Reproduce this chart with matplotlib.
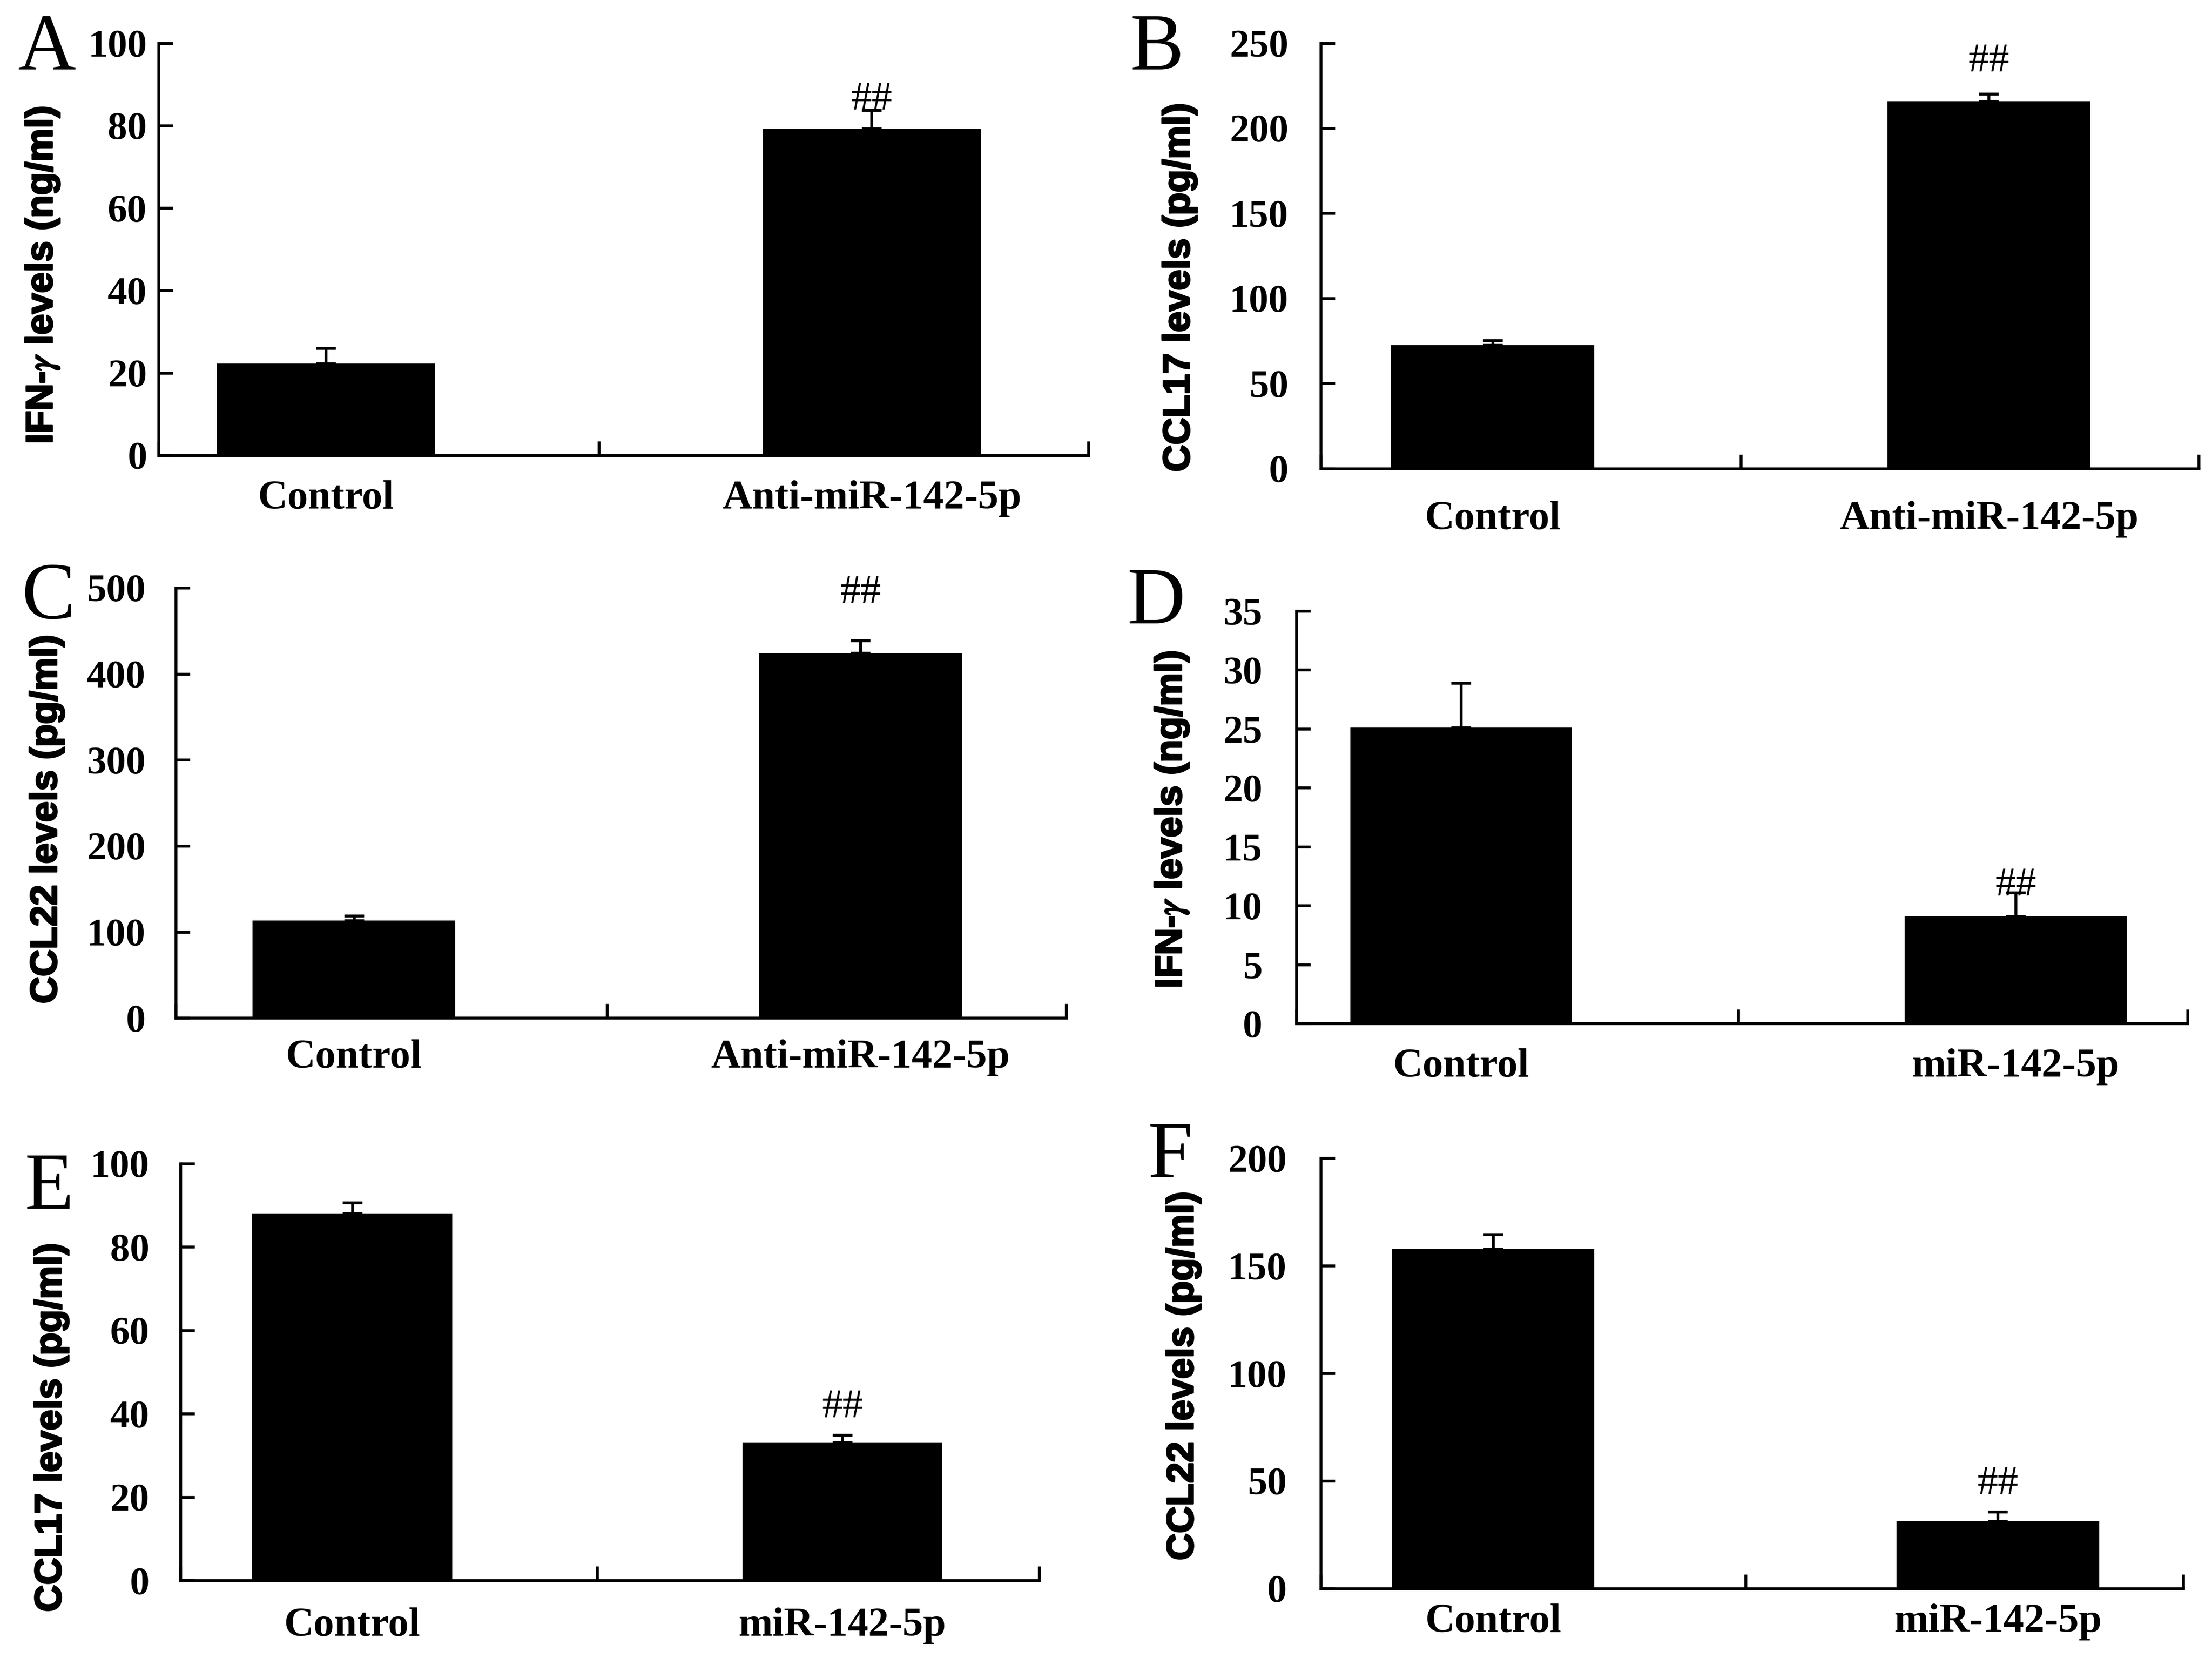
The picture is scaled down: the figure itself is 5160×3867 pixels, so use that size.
import matplotlib
matplotlib.use("Agg")
import matplotlib.pyplot as plt
import matplotlib.patheffects as pe
import numpy as np

plt.rcParams["mathtext.fontset"] = "stix"

# data (mean, upper SD)
groups_anti = ["Control", "Anti-miR-142-5p"]
groups_mimic = ["Control", "miR-142-5p"]

ifng_anti_mean = [22.3, 79.2]
ifng_anti_err = [3.7, 4.5]
ccl17_anti_mean = [72.4, 215.8]
ccl17_anti_err = [2.9, 4.4]
ccl22_anti_mean = [113.3, 424.0]
ccl22_anti_err = [5.7, 14.6]
ifng_mimic_mean = [25.1, 9.1]
ifng_mimic_err = [3.8, 2.0]
ccl17_mimic_mean = [88.1, 33.1]
ccl17_mimic_err = [2.5, 1.8]
ccl22_mimic_mean = [157.9, 31.3]
ccl22_mimic_err = [6.8, 4.3]

ylabel_ifng = r"IFN-$\gamma$ levels (ng/ml)"
ylabel_ccl17 = "CCL17 levels (pg/ml)"
ylabel_ccl22 = "CCL22 levels (pg/ml)"

SERIF = "Liberation Serif"
SANS = "Liberation Sans"

# layout of each panel, measured on the reference
panels = [
    dict(letter="A", rect=[0.0717, 0.7254, 0.4203, 0.2486], groups=groups_anti,
         mean=ifng_anti_mean, err=ifng_anti_err, ymax=100, ystep=20, label=ylabel_ifng,
         lab_xy=(0.0193, 0.834), let_xy=(0.008, 0.958), c=(0.18, 0.767, 0.235),
         xpad=14, ypad=6.5, gap=0.5),
    dict(letter="B", rect=[0.597, 0.7174, 0.397, 0.2566], groups=groups_anti,
         mean=ccl17_anti_mean, err=ccl17_anti_err, ymax=250, ystep=50, label=ylabel_ccl17,
         lab_xy=(0.5333, 0.8267), let_xy=(0.511, 0.958), c=(0.196, 0.761, 0.231),
         xpad=18, ypad=18, gap=12.6),
    dict(letter="C", rect=[0.0795, 0.386, 0.4025, 0.2595], groups=groups_anti,
         mean=ccl22_anti_mean, err=ccl22_anti_err, ymax=500, ystep=100, label=ylabel_ccl22,
         lab_xy=(0.0212, 0.506), let_xy=(0.0097, 0.627), c=(0.2, 0.769, 0.228),
         xpad=12, ypad=17, gap=21),
    dict(letter="D", rect=[0.586, 0.3827, 0.403, 0.2488], groups=groups_mimic,
         mean=ifng_mimic_mean, err=ifng_mimic_err, ymax=35, ystep=5, label=ylabel_ifng,
         lab_xy=(0.5298, 0.5056), let_xy=(0.5097, 0.624), c=(0.185, 0.807, 0.249),
         xpad=14, ypad=19, gap=-1.6),
    dict(letter="E", rect=[0.0816, 0.0468, 0.3881, 0.2514], groups=groups_mimic,
         mean=ccl17_mimic_mean, err=ccl17_mimic_err, ymax=100, ystep=20, label=ylabel_ccl17,
         lab_xy=(0.0232, 0.1391), let_xy=(0.0112, 0.271), c=(0.2, 0.771, 0.233),
         xpad=15, ypad=17.5, gap=10),
    dict(letter="F", rect=[0.597, 0.042, 0.39, 0.2594], groups=groups_mimic,
         mean=ccl22_mimic_mean, err=ccl22_mimic_err, ymax=200, ystep=50, label=ylabel_ccl22,
         lab_xy=(0.535, 0.1702), let_xy=(0.519, 0.2899), c=(0.2, 0.785, 0.235),
         xpad=8.6, ypad=19, gap=10),
]

LW = 1.6

fig = plt.figure(figsize=(17.2, 12.89), dpi=300)

for p in panels:
    ax = fig.add_axes(p["rect"])
    c0, c1, wfrac = p["c"]
    span = 1.0 / (c1 - c0)
    left = -c0 * span
    right = left + span
    x = np.arange(len(p["groups"]))

    yerr = np.array([np.zeros(len(p["err"])), p["err"]])
    ax.bar(x, p["mean"], width=wfrac * span, color="black", yerr=yerr,
           error_kw=dict(ecolor="black", elinewidth=LW, capsize=5.5, capthick=LW))

    # significance mark on the treated group
    ax.annotate("##", (x[1], p["mean"][1] + p["err"][1]), xytext=(0, p["gap"]),
                textcoords="offset points", ha="center", va="baseline",
                fontsize=23, family=SERIF)

    ax.set_xlim(left, right)
    ax.set_ylim(0, p["ymax"])
    ax.set_yticks(np.arange(0, p["ymax"] + 1e-9, p["ystep"]))
    ax.set_xticks([left, 0.5, right])
    ax.set_xticklabels([])
    ax.set_xticks(x, minor=True)
    ax.set_xticklabels(p["groups"], minor=True, fontsize=23, family=SERIF, fontweight="bold")
    ax.tick_params(axis="x", which="major", direction="in", length=8, width=LW)
    ax.tick_params(axis="x", which="minor", length=0, pad=p["xpad"])
    ax.tick_params(axis="y", direction="in", length=8, width=LW, pad=p["ypad"])
    for lab in ax.get_yticklabels():
        lab.set_fontfamily(SERIF)
        lab.set_fontweight("bold")
        lab.set_fontsize(22)

    for s in ["top", "right"]:
        ax.spines[s].set_visible(False)
    for s in ["left", "bottom"]:
        ax.spines[s].set_linewidth(LW)

    fig.text(p["lab_xy"][0], p["lab_xy"][1], p["label"], rotation=90, ha="center", va="center",
             fontsize=21, family=SANS, fontweight="bold",
             path_effects=[pe.withStroke(linewidth=0.9, foreground="black")])
    fig.text(p["let_xy"][0], p["let_xy"][1], p["letter"], ha="left", va="baseline",
             fontsize=45, family=SERIF)

fig.savefig("out.png", dpi=300, facecolor="white")
